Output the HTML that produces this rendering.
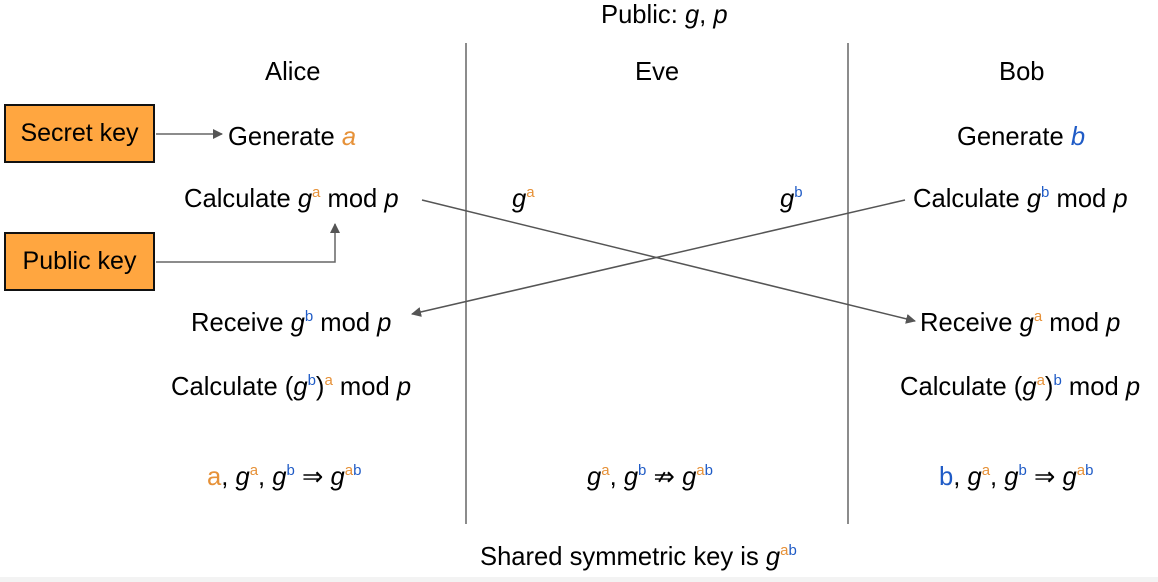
<!DOCTYPE html>
<html><head><style>
body{margin:0;width:1158px;height:582px;background:#fff;position:relative;overflow:hidden;font-family:"Liberation Sans",Arial,sans-serif;font-size:25.6px;color:#000}
.t{position:absolute;white-space:nowrap;line-height:26px}
.o{color:#e69138}.b{color:#1f5bc6}
sup{font-size:15px;vertical-align:10px;line-height:0}
.box{position:absolute;left:4px;width:147px;height:55px;background:#ffa640;border:2px solid #111;box-sizing:content-box;text-align:center;line-height:55px;font-size:25px}
</style></head><body>
<svg width="1158" height="582" style="position:absolute;left:0;top:0">
<defs><marker id="ar" markerWidth="10" markerHeight="10" refX="9" refY="5" orient="auto" markerUnits="userSpaceOnUse"><path d="M0,0 L10,5 L0,10 z" fill="#555"/></marker></defs>
<line x1="466" y1="43" x2="466" y2="524" stroke="#666" stroke-width="1.5"/>
<line x1="848" y1="43" x2="848" y2="524" stroke="#666" stroke-width="1.5"/>
<line x1="156" y1="134" x2="222" y2="134" stroke="#666" stroke-width="1.5" marker-end="url(#ar)"/>
<polyline points="156,262 335,262 335,224" fill="none" stroke="#666" stroke-width="1.5" marker-end="url(#ar)"/>
<line x1="422" y1="200" x2="915" y2="321" stroke="#555" stroke-width="1.5" marker-end="url(#ar)"/>
<line x1="905" y1="200" x2="412" y2="314" stroke="#555" stroke-width="1.5" marker-end="url(#ar)"/>
<rect x="0" y="577" width="1158" height="5" fill="#f3f3f3"/>
</svg>
<div class="box" style="top:104px">Secret key</div>
<div class="box" style="top:232px">Public key</div>
<div class="t" style="left:601px;top:2px">Public: <i>g</i>, <i>p</i></div>
<div class="t" style="left:265px;top:59px">Alice</div>
<div class="t" style="left:635px;top:59px">Eve</div>
<div class="t" style="left:999px;top:59px">Bob</div>
<div class="t" style="left:228px;top:124px">Generate <i class="o">a</i></div>
<div class="t" style="left:957px;top:124px">Generate <i class="b">b</i></div>
<div class="t" style="left:184px;top:186px">Calculate <i>g</i><sup class="o">a</sup> mod <i>p</i></div>
<div class="t" style="left:512px;top:186px"><i>g</i><sup class="o">a</sup></div>
<div class="t" style="left:780px;top:186px"><i>g</i><sup class="b">b</sup></div>
<div class="t" style="left:913px;top:186px">Calculate <i>g</i><sup class="b">b</sup> mod <i>p</i></div>
<div class="t" style="left:191px;top:310px">Receive <i>g</i><sup class="b">b</sup> mod <i>p</i></div>
<div class="t" style="left:920px;top:310px">Receive <i>g</i><sup class="o">a</sup> mod <i>p</i></div>
<div class="t" style="left:171px;top:374px">Calculate (<i>g</i><sup class="b">b</sup>)<sup class="o">a</sup> mod <i>p</i></div>
<div class="t" style="left:900px;top:374px">Calculate (<i>g</i><sup class="o">a</sup>)<sup class="b">b</sup> mod <i>p</i></div>
<div class="t" style="left:207px;top:464px"><span class="o">a</span>, <i>g</i><sup class="o">a</sup>, <i>g</i><sup class="b">b</sup> ⇒ <i>g</i><sup><span class="o">a</span><span class="b">b</span></sup></div>
<div class="t" style="left:587px;top:464px"><i>g</i><sup class="o">a</sup>, <i>g</i><sup class="b">b</sup> ⇏ <i>g</i><sup><span class="o">a</span><span class="b">b</span></sup></div>
<div class="t" style="left:939px;top:464px"><span class="b">b</span>, <i>g</i><sup class="o">a</sup>, <i>g</i><sup class="b">b</sup> ⇒ <i>g</i><sup><span class="o">a</span><span class="b">b</span></sup></div>
<div class="t" style="left:480px;top:544px">Shared symmetric key is <i>g</i><sup><span class="o">a</span><span class="b">b</span></sup></div>
</body></html>
